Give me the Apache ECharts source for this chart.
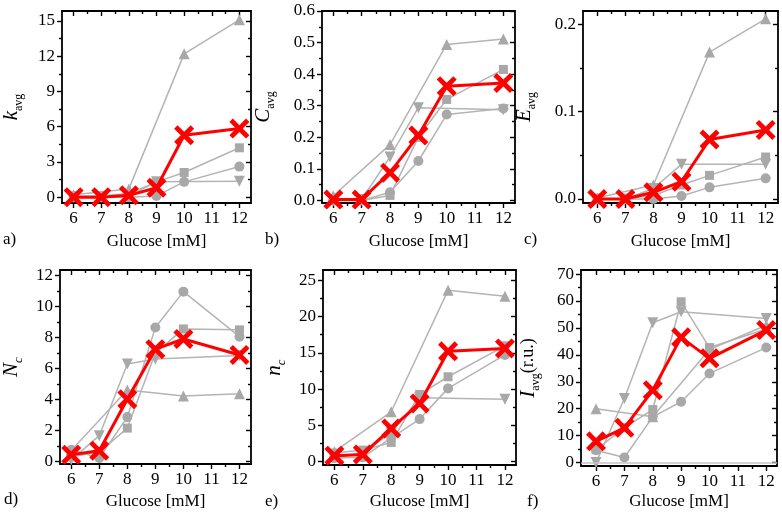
<!DOCTYPE html>
<html>
<head>
<meta charset="utf-8">
<script src="https://cdn.jsdelivr.net/npm/echarts@6.0.0/dist/echarts.min.js"></script>
<style>
  html, body { margin: 0; padding: 0; background: #fff; }
  #main { width: 782px; height: 522px; }
</style>
</head>
<body>
<div id="main"></div>
<script>
// glucose concentrations (x values)
const glucose = [6, 7, 8, 9, 10, 12];
const glucoseTicks = [6, 7, 8, 9, 10, 11, 12];
const glucoseMinor = [6.5, 7.5, 8.5, 9.5, 10.5, 11.5];

// a) k_avg
const kSquare = [0.1, 0.1, 0.3, 1.3, 2.1, 4.2];
const kCircle = [0, 0, 0, 0.1, 1.3, 2.6];
const kTriUp = [0.2, null, 0.7, null, 12.2, 15.1];
const kTriDown = [0, 0, 0.1, 1.3, null, 1.35];
const kAvg = [0, 0, 0.15, 0.8, 5.27, 5.84];
const kTicks = [0, 3, 6, 9, 12, 15];

// b) C_avg
const cSquare = [0, 0, 0.016, 0.2, 0.32, 0.415];
const cCircle = [0, 0, 0.026, 0.125, 0.272, 0.291];
const cTriUp = [0.015, null, 0.177, null, 0.494, 0.511];
const cTriDown = [0, 0.003, 0.138, 0.294, null, 0.287];
const cAvg = [0.003, 0.003, 0.088, 0.206, 0.362, 0.372];
const cTicks = [0, 0.1, 0.2, 0.3, 0.4, 0.5, 0.6];

// c) E_avg
const eSquare = [0, 0, 0.004, 0.016, 0.027, 0.048];
const eCircle = [0, 0, 0, 0.0034, 0.0133, 0.0236];
const eTriUp = [0.001, null, 0.016, null, 0.168, 0.206];
const eTriDown = [0, 0, 0.012, 0.0396, null, 0.0396];
const eAvg = [0, 0, 0.0076, 0.0198, 0.068, 0.079];
const eTicks = [0, 0.1, 0.2];

// d) N_c
const nSquare = [0.3, 0.6, 2.15, 7.0, 8.56, 8.5];
const nCircle = [0.75, 0.22, 2.86, 8.65, 10.97, 8.06];
const nTriUp = [0.7, null, 4.62, null, 4.22, 4.37];
const nTriDown = [0.1, 1.66, 6.3, 6.62, null, 6.84];
const nAvg = [0.43, 0.69, 4.02, 7.25, 7.91, 6.88];
const nTicks = [0, 2, 4, 6, 8, 10, 12];

// e) n_c
const ncSquare = [1.2, 1.6, 2.66, 9.27, 11.7, 15.96];
const ncCircle = [0.5, 0.6, 3.3, 5.87, 10.1, 14.7];
const ncTriUp = [1.4, null, 6.88, null, 23.6, 22.8];
const ncTriDown = [0.5, 1.2, 4.0, 8.8, null, 8.62];
const ncAvg = [0.83, 1.0, 4.59, 8.03, 15.2, 15.6];
const ncTicks = [0, 5, 10, 15, 20, 25];

// f) I_avg
const iSquare = [4.8, 13, 19.7, 59.7, 42.7, 49.6];
const iCircle = [4.6, 1.9, 17, 22.6, 33.1, 42.7];
const iTriUp = [20, null, 17, null, 42, 51];
const iTriDown = [0, 23.8, 51.9, 56, null, 53.5];
const iAvg = [7.9, 12.9, 26.9, 46.5, 38.7, 49.2];
const iTicks = [0, 10, 20, 30, 40, 50, 60, 70];

const FONT = 'Liberation Serif';
const X_PATH = 'path://M0,3.4L3.4,0L10,6.6L16.6,0L20,3.4L13.4,10L20,16.6L16.6,20L10,13.4L3.4,20L0,16.6L6.6,10Z';

const panels = [
  { grid: { left: 57, top: 11, width: 194, height: 192 }, x: [5.58, 12.42], y: [-0.5, 15.85],
    ticks: kTicks, dec: 0, name: '{i|k}{s|avg}', gap: 37, xGap: 30,
    letter: 'a)', lx: 3, ly: 231, data: [kSquare, kCircle, kTriUp, kTriDown, kAvg] },
  { grid: { left: 322, top: 11, width: 193, height: 192 }, x: [5.6, 12.41], y: [-0.008, 0.6],
    ticks: cTicks, dec: 1, name: '{i|C}{s|avg}', gap: 45, xGap: 30,
    letter: 'b)', lx: 265, ly: 231, data: [cSquare, cCircle, cTriUp, cTriDown, cAvg] },
  { grid: { left: 583, top: 11, width: 195, height: 192 }, x: [5.49, 12.44], y: [-0.0046, 0.215],
    ticks: eTicks, dec: 1, name: '{i|E}{s|avg}', gap: 45, xGap: 30,
    letter: 'c)', lx: 524, ly: 231, data: [eSquare, eCircle, eTriUp, eTriDown, eAvg] },
  { grid: { left: 57, top: 270, width: 194, height: 194 }, x: [5.6, 12.41], y: [-0.17, 12.37],
    ticks: nTicks, dec: 0, name: '{i|N}{si|c}', gap: 35, xGap: 29,
    letter: 'd)', lx: 4, ly: 491, data: [nSquare, nCircle, nTriUp, nTriDown, nAvg] },
  { grid: { left: 323, top: 270, width: 193, height: 195 }, x: [5.6, 12.39], y: [-0.45, 26.4],
    ticks: ncTicks, dec: 0, name: '{i|n}{si|c}', gap: 35, xGap: 28,
    letter: 'e)', lx: 265, ly: 493, data: [ncSquare, ncCircle, ncTriUp, ncTriDown, ncAvg] },
  { grid: { left: 581, top: 270, width: 196, height: 196 }, x: [5.47, 12.38], y: [-1.26, 71.5],
    ticks: iTicks, dec: 0, name: '{i|I}{s|avg}{n|(r.u.)}', gap: 39, xGap: 27,
    letter: 'f)', lx: 527, ly: 493, data: [iSquare, iCircle, iTriUp, iTriDown, iAvg], zeroLine: true }
];

const grayMarks = [
  { symbol: 'rect', size: 9, rotate: 0 },
  { symbol: 'circle', size: 10, rotate: 0 },
  { symbol: 'triangle', size: 11, rotate: 0 },
  { symbol: 'triangle', size: 11, rotate: 180 }
];

const axisLine = { color: '#000', width: 1.8 };
const tickLine = { color: '#000', width: 1.4 };
const nameRich = {
  i: { fontFamily: FONT, fontStyle: 'italic', fontSize: 21, color: '#000', padding: [0, 0, 3, 0] },
  s: { fontFamily: FONT, fontSize: 12, color: '#000', verticalAlign: 'bottom' },
  si: { fontFamily: FONT, fontStyle: 'italic', fontSize: 13, color: '#000', verticalAlign: 'bottom' },
  n: { fontFamily: FONT, fontSize: 18, color: '#000', padding: [0, 0, 3, 0] }
};

function pairs(arr) {
  const out = [];
  glucose.forEach((g, k) => { if (arr[k] !== null) out.push([g, arr[k]]); });
  return out;
}

function midpoints(t) {
  const out = [];
  for (let k = 0; k < t.length - 1; k++) out.push((t[k] + t[k + 1]) / 2);
  return out;
}

const xAxis = [], yAxis = [], series = [], grid = [], graphic = [];

panels.forEach((p, i) => {
  grid.push(p.grid);
  const common = { gridIndex: i, type: 'value', splitLine: { show: false } };
  // x axes: bottom major (labels), bottom minor, top major, top minor
  xAxis.push(Object.assign({}, common, {
    position: 'bottom', min: p.x[0], max: p.x[1],
    axisLine: { show: true, onZero: false, lineStyle: axisLine },
    axisTick: { show: true, inside: false, length: 5, customValues: glucoseTicks, lineStyle: tickLine },
    axisLabel: { show: true, customValues: glucoseTicks, margin: 7, color: '#000', fontFamily: FONT, fontSize: 17 },
    name: 'Glucose [mM]', nameLocation: 'middle', nameGap: p.xGap,
    nameTextStyle: { color: '#000', fontFamily: FONT, fontSize: 17 }
  }));
  xAxis.push(Object.assign({}, common, {
    position: 'bottom', min: p.x[0], max: p.x[1],
    axisLine: { show: false, onZero: false },
    axisTick: { show: true, inside: false, length: 3, customValues: glucoseMinor, lineStyle: tickLine },
    axisLabel: { show: false }
  }));
  xAxis.push(Object.assign({}, common, {
    position: 'top', min: p.x[0], max: p.x[1],
    axisLine: { show: true, onZero: false, lineStyle: axisLine },
    axisTick: { show: true, inside: true, length: 5, customValues: glucoseTicks, lineStyle: tickLine },
    axisLabel: { show: false }
  }));
  xAxis.push(Object.assign({}, common, {
    position: 'top', min: p.x[0], max: p.x[1],
    axisLine: { show: false, onZero: false },
    axisTick: { show: true, inside: true, length: 3, customValues: glucoseMinor, lineStyle: tickLine },
    axisLabel: { show: false }
  }));

  const minor = midpoints(p.ticks);
  yAxis.push(Object.assign({}, common, {
    position: 'left', min: p.y[0], max: p.y[1],
    axisLine: { show: true, onZero: false, lineStyle: axisLine },
    axisTick: { show: true, inside: false, length: 5, customValues: p.ticks, lineStyle: tickLine },
    axisLabel: {
      show: true, customValues: p.ticks, margin: 7, color: '#000', fontFamily: FONT, fontSize: 17,
      formatter: (v) => Number(v).toFixed(p.dec)
    },
    name: p.name, nameLocation: 'middle', nameGap: p.gap, nameRotate: 90,
    nameTextStyle: { fontFamily: FONT, rich: nameRich }
  }));
  yAxis.push(Object.assign({}, common, {
    position: 'left', min: p.y[0], max: p.y[1],
    axisLine: { show: false, onZero: false },
    axisTick: { show: true, inside: false, length: 3, customValues: minor, lineStyle: tickLine },
    axisLabel: { show: false }
  }));
  yAxis.push(Object.assign({}, common, {
    position: 'right', min: p.y[0], max: p.y[1],
    axisLine: { show: true, onZero: false, lineStyle: axisLine },
    axisTick: { show: true, inside: true, length: 5, customValues: p.ticks, lineStyle: tickLine },
    axisLabel: { show: false }
  }));
  yAxis.push(Object.assign({}, common, {
    position: 'right', min: p.y[0], max: p.y[1],
    axisLine: { show: false, onZero: false },
    axisTick: { show: true, inside: true, length: 3, customValues: minor, lineStyle: tickLine },
    axisLabel: { show: false }
  }));

  // gray individual curves
  grayMarks.forEach((m, k) => {
    const s = {
      type: 'line', xAxisIndex: i * 4, yAxisIndex: i * 4,
      data: pairs(p.data[k]),
      symbol: m.symbol, symbolSize: m.size, symbolRotate: m.rotate,
      lineStyle: { color: '#b4b4b4', width: 1.5 },
      itemStyle: { color: '#a8a8a8' },
      z: 2, silent: true
    };
    if (p.zeroLine && k === 0) {
      s.markLine = {
        silent: true, symbol: 'none', label: { show: false },
        lineStyle: { color: '#c4c4c4', width: 1.5, type: 'solid' },
        data: [{ yAxis: 0 }]
      };
    }
    series.push(s);
  });

  // red average curve
  series.push({
    type: 'line', xAxisIndex: i * 4, yAxisIndex: i * 4,
    data: pairs(p.data[4]),
    symbol: X_PATH, symbolSize: 20,
    lineStyle: { color: '#ff0000', width: 3 },
    itemStyle: { color: '#ff0000' },
    z: 5, silent: true
  });

  graphic.push({
    type: 'text', left: p.lx, top: p.ly,
    style: { text: p.letter, fontFamily: FONT, fontSize: 17, fill: '#000' }
  });
});

const myChart = echarts.init(document.getElementById('main'));
myChart.setOption({
  animation: false,
  backgroundColor: '#fff',
  textStyle: { fontFamily: FONT },
  grid: grid,
  xAxis: xAxis,
  yAxis: yAxis,
  series: series,
  graphic: graphic
});
</script>
</body>
</html>
